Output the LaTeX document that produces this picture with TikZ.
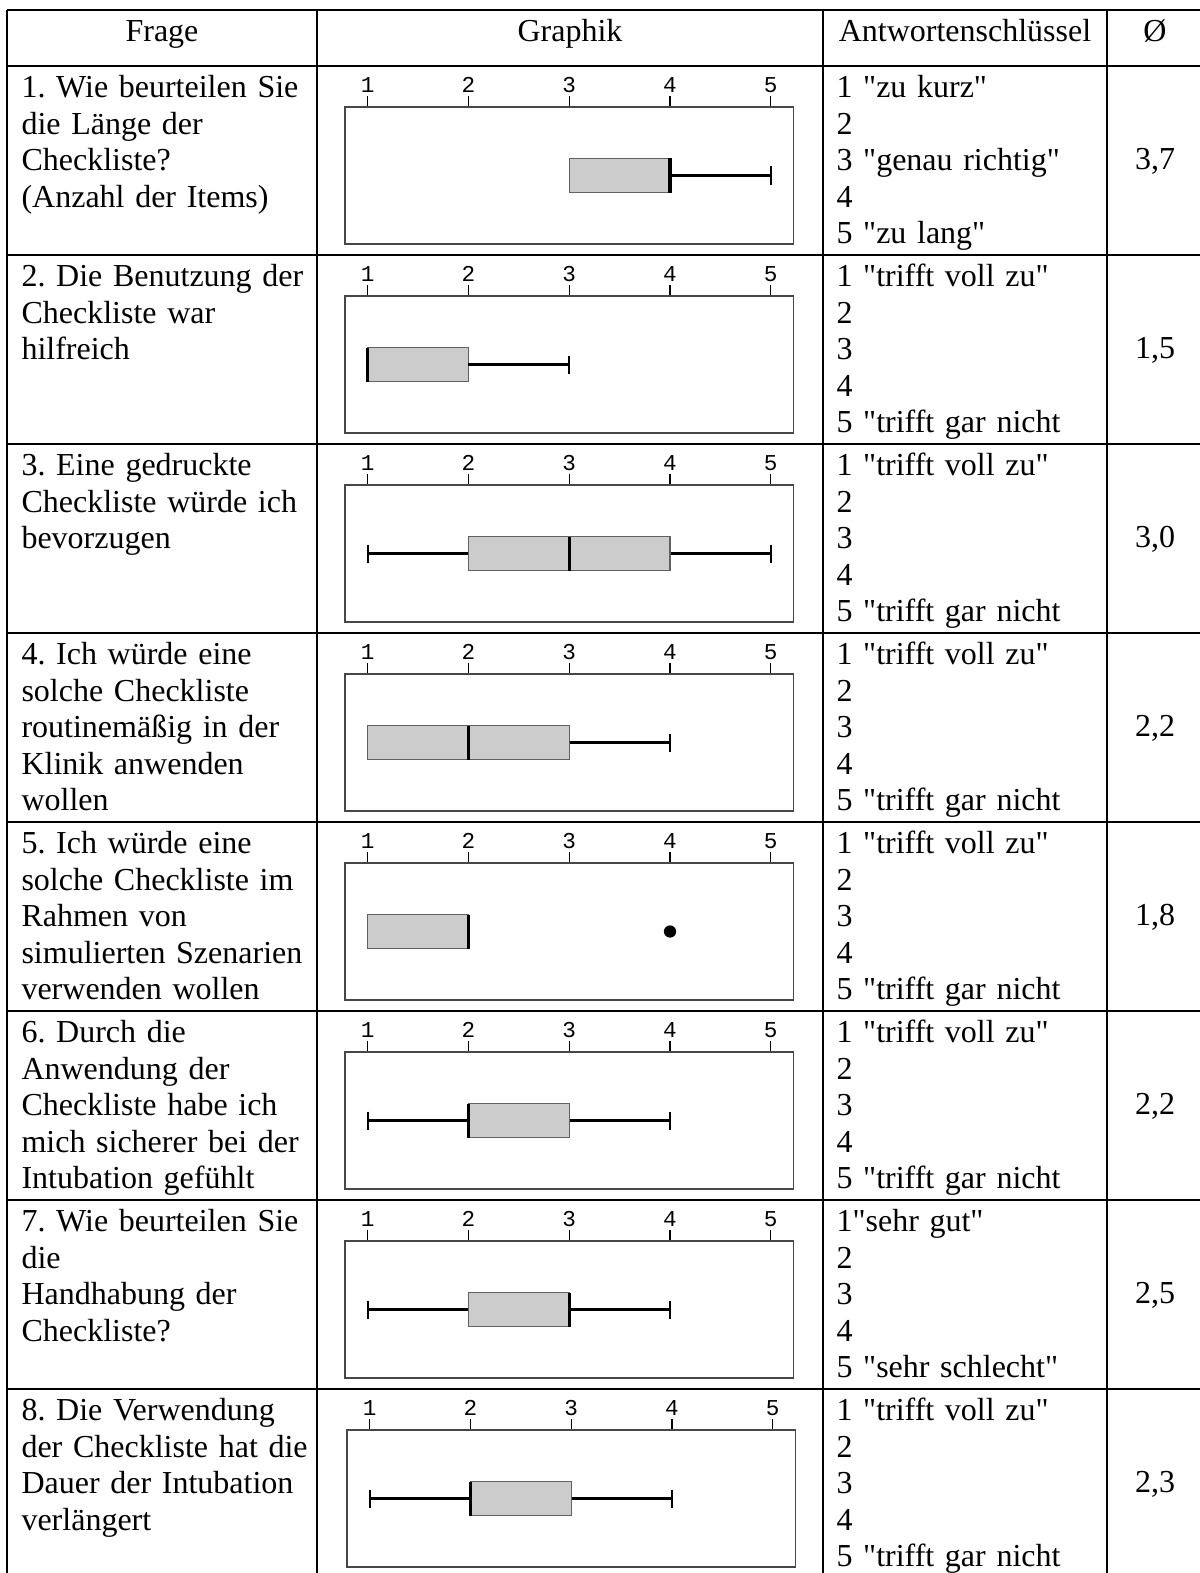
\documentclass[tikz,border=0pt]{standalone}
\usepackage{fontspec}
\newfontfamily\tnr{Liberation Serif}
\newfontfamily\tickfont{Liberation Mono}
\frenchspacing
\newcommand\bxplot[6]{% #1 name, #2 T, #3 dx, #4 q1, #5 med, #6 q3
  \begin{scope}[xshift={#3*0.375pt}]
    \foreach \v in {1,...,5}{
      \pgfmathsetmacro\xx{367.7+100.75*(\v-1)}
      \draw[tickst] (\xx,#2+30) -- (\xx,#2+41);
      \node[ticklab] (#1-l\v) at (\xx,#2+19) {\v};
    }
    \draw[frm] (345,#2+41) rectangle (793.3,#2+178);
    \pgfmathsetmacro\xa{367.7+100.75*(#4-1)}
    \pgfmathsetmacro\xm{367.7+100.75*(#5-1)}
    \pgfmathsetmacro\xb{367.7+100.75*(#6-1)}
    \draw[bx] (\xa,#2+92.5) rectangle (\xb,#2+126.5);
    \draw[medst] (\xm,#2+92.5) -- (\xm,#2+126.5);
  \end{scope}}
\newcommand\whisk[4]{% #1 T, #2 dx, #3 from value, #4 cap value
  \begin{scope}[xshift={#2*0.375pt}]
    \pgfmathsetmacro\xa{367.7+100.75*(#3-1)}
    \pgfmathsetmacro\xc{367.7+100.75*(#4-1)}
    \draw[whiskst] (\xa,#1+109.5) -- (\xc,#1+109.5);
    \draw[capst] (\xc,#1+100.5) -- (\xc,#1+118.5);
  \end{scope}}
\begin{document}
\begin{tikzpicture}[x={(0.375pt,0)},y={(0,-0.375pt)},
  tline/.style={line width=0.85pt,black},
  thinline/.style={line width=0.5pt,black},
  frm/.style={line width=0.55pt,draw=black!72},
  bx/.style={fill=black!20,draw=black!62,line width=0.5pt},
  medst/.style={line width=1.2pt,black},
  whiskst/.style={line width=0.9pt,black},
  capst/.style={line width=0.75pt,black},
  tickst/.style={line width=0.5pt,black},
  ticklab/.style={font=\tickfont\fontsize{8.5}{9}\selectfont,inner sep=0pt},
  cell/.style={font=\tnr\fontsize{12}{13.725}\selectfont,anchor=base west,inner sep=0pt,text width=115pt,align=left},
  head/.style={font=\tnr\fontsize{12}{13.725}\selectfont,anchor=base,inner sep=0pt},
  avg/.style={font=\tnr\fontsize{12}{13.725}\selectfont,anchor=base,inner sep=0pt}
]
\useasboundingbox[fill=white] (0,0) rectangle (1199,1573);

% table rules
\foreach \k in {0,...,7}{
  \pgfmathsetmacro\T{66+189*\k}
  \draw[thinline] (337,\T) -- (800,\T);
  \draw[tline] (7.3,\T) -- (337,\T);
  \draw[tline] (800,\T) -- (1210,\T);
}
\draw[tline] (7.3,10) -- (1210,10);
\foreach \xv in {7.3,317.3,823,1106.7}{
  \draw[tline] (\xv,9.6) -- (\xv,1590);
}

% header
\node[head] (hfrage) at (162,41.5) {Frage};
\node[head] (hgraph) at (570,41.5) {Graphik};
\node[head] (hantw) at (965,41.5) {Antwortenschlüssel};
\node[head] (havg) at (1155,41.5) {Ø};

% row 1
\node[cell] (f1) at (21,97.5) {1. Wie beurteilen Sie\\die Länge der\\Checkliste?\\(Anzahl der Items)};
\node[cell] (a1) at (836,97.5) {1 "zu kurz"\\2\\3 "genau richtig"\\4\\5 "zu lang"};
\node[avg] (m1) at (1155,169.5) {3,7};
\bxplot{p1}{66}{0}{3}{4}{4}
\whisk{66}{0}{4}{5}

% row 2
\node[cell] (f2) at (21,286.5) {2. Die Benutzung der\\Checkliste war\\hilfreich};
\node[cell] (a2) at (836,286.5) {1 "trifft voll zu"\\2\\3\\4\\5 "trifft gar nicht};
\node[avg] (m2) at (1155,358.5) {1,5};
\bxplot{p2}{255}{0}{1}{1}{2}
\whisk{255}{0}{2}{3}

% row 3
\node[cell] (f3) at (21,475.5) {3. Eine gedruckte\\Checkliste würde ich\\bevorzugen};
\node[cell] (a3) at (836,475.5) {1 "trifft voll zu"\\2\\3\\4\\5 "trifft gar nicht};
\node[avg] (m3) at (1155,547.5) {3,0};
\whisk{444}{0}{2}{1}
\whisk{444}{0}{4}{5}
\bxplot{p3}{444}{0}{2}{3}{4}

% row 4
\node[cell] (f4) at (21,664.5) {4. Ich würde eine\\solche Checkliste\\routinemäßig in der\\Klinik anwenden\\wollen};
\node[cell] (a4) at (836,664.5) {1 "trifft voll zu"\\2\\3\\4\\5 "trifft gar nicht};
\node[avg] (m4) at (1155,736.5) {2,2};
\whisk{633}{0}{3}{4}
\bxplot{p4}{633}{0}{1}{2}{3}

% row 5
\node[cell] (f5) at (21,853.5) {5. Ich würde eine\\solche Checkliste im\\Rahmen von\\simulierten Szenarien\\verwenden wollen};
\node[cell] (a5) at (836,853.5) {1 "trifft voll zu"\\2\\3\\4\\5 "trifft gar nicht};
\node[avg] (m5) at (1155,925.5) {1,8};
\bxplot{p5}{822}{0}{1}{2}{2}
\fill[black] (670,931.5) circle[radius=2.3pt];

% row 6
\node[cell] (f6) at (21,1042.5) {6. Durch die\\Anwendung der\\Checkliste habe ich\\mich sicherer bei der\\Intubation gefühlt};
\node[cell] (a6) at (836,1042.5) {1 "trifft voll zu"\\2\\3\\4\\5 "trifft gar nicht};
\node[avg] (m6) at (1155,1114.5) {2,2};
\whisk{1011}{0}{2}{1}
\whisk{1011}{0}{3}{4}
\bxplot{p6}{1011}{0}{2}{2}{3}

% row 7
\node[cell] (f7) at (21,1231.5) {7. Wie beurteilen Sie\\die\\Handhabung der\\Checkliste?};
\node[cell] (a7) at (836,1231.5) {1"sehr gut"\\2\\3\\4\\5 "sehr schlecht"};
\node[avg] (m7) at (1155,1303.5) {2,5};
\whisk{1200}{0}{2}{1}
\whisk{1200}{0}{3}{4}
\bxplot{p7}{1200}{0}{2}{3}{3}

% row 8
\node[cell] (f8) at (21,1420.5) {8. Die Verwendung\\der Checkliste hat die\\Dauer der Intubation\\verlängert};
\node[cell] (a8) at (836,1420.5) {1 "trifft voll zu"\\2\\3\\4\\5 "trifft gar nicht};
\node[avg] (m8) at (1155,1492.5) {2,3};
\whisk{1389}{2}{2}{1}
\whisk{1389}{2}{3}{4}
\bxplot{p8}{1389}{2}{2}{2}{3}
\end{tikzpicture}
\end{document}
